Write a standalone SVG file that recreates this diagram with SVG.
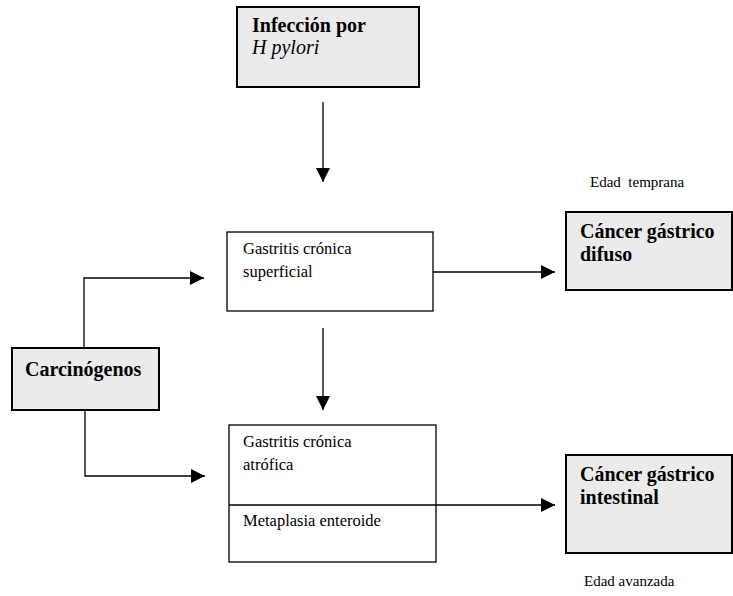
<svg xmlns="http://www.w3.org/2000/svg" width="733" height="596" viewBox="0 0 733 596">
<style>
.box{fill:#fff;stroke:#000;stroke-width:1.3}
.shade{fill:#ebebeb;stroke:#000;stroke-width:2}
.t{font-family:"Liberation Serif","Times New Roman",serif;font-size:16.5px;fill:#000}
.b{font-family:"Liberation Serif","Times New Roman",serif;font-size:20px;font-weight:bold;fill:#000}
.i{font-family:"Liberation Serif","Times New Roman",serif;font-size:20px;font-style:italic;fill:#000}
.s{font-family:"Liberation Serif","Times New Roman",serif;font-size:15px;fill:#000}
.c{fill:none;stroke:#000;stroke-width:1.3}
</style>
<defs>
<marker id="ah" viewBox="0 0 10 10" refX="10" refY="5" markerWidth="14" markerHeight="14" markerUnits="userSpaceOnUse" orient="auto">
<path d="M0,0 L10,5 L0,10 z" fill="#000"/>
</marker>
</defs>
<g id="connectors">
<line class="c" x1="323" y1="102" x2="323" y2="182" marker-end="url(#ah)"/>
<line class="c" x1="323" y1="328" x2="323" y2="410" marker-end="url(#ah)"/>
<line class="c" x1="433" y1="272" x2="555" y2="272" marker-end="url(#ah)"/>
<line class="c" x1="436" y1="505" x2="555" y2="505" marker-end="url(#ah)"/>
<polyline class="c" points="84,348 84,278 204,278" marker-end="url(#ah)"/>
<polyline class="c" points="85,410 85,476 205,476" marker-end="url(#ah)"/>
</g>
<g id="infeccion">
<rect class="shade" x="237" y="7" width="182" height="80"/>
<text class="b" x="252" y="32">Infección por</text>
<text class="i" x="252" y="54">H pylori</text>
</g>
<g id="superficial">
<rect class="box" x="227" y="232" width="206" height="79"/>
<text class="t" x="243" y="254">Gastritis crónica</text>
<text class="t" x="243" y="277">superficial</text>
</g>
<g id="difuso">
<rect class="shade" x="566" y="212" width="166" height="78"/>
<text class="b" x="580" y="238">Cáncer gástrico</text>
<text class="b" x="580" y="261">difuso</text>
</g>
<g id="edad-temprana">
<text class="s" x="590" y="187" xml:space="preserve">Edad  temprana</text>
</g>
<g id="carcinogenos">
<rect class="shade" x="12" y="348" width="147" height="62"/>
<text class="b" x="25" y="376">Carcinógenos</text>
</g>
<g id="atrofica">
<rect class="box" x="229" y="425" width="207" height="137"/>
<line class="box" x1="229" y1="505" x2="436" y2="505"/>
<text class="t" x="243" y="447">Gastritis crónica</text>
<text class="t" x="243" y="470">atrófica</text>
<text class="t" x="243" y="526">Metaplasia enteroide</text>
</g>
<g id="intestinal">
<rect class="shade" x="566" y="455" width="166" height="98"/>
<text class="b" x="580" y="481">Cáncer gástrico</text>
<text class="b" x="580" y="504">intestinal</text>
</g>
<g id="edad-avanzada">
<text class="s" x="584" y="586">Edad avanzada</text>
</g>
</svg>
